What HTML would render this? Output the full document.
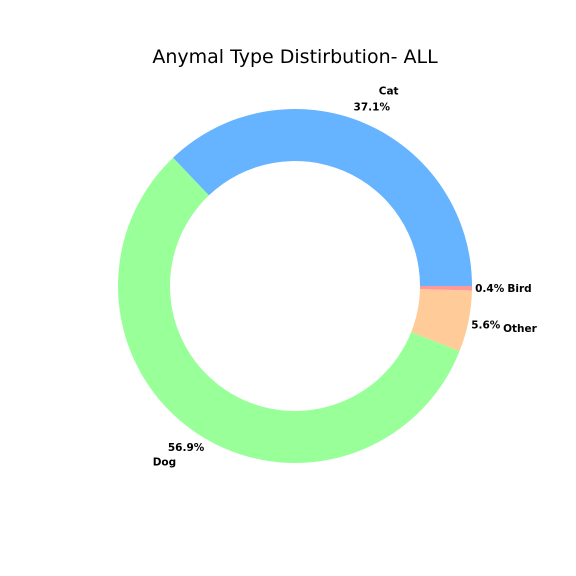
<!DOCTYPE html>
<html><head><meta charset="utf-8"><style>
body{margin:0;background:#fff;}
svg{display:block;font-family:"DejaVu Sans","Liberation Sans",sans-serif;}
</style></head><body>
<svg id="chart" width="576" height="576">
<rect width="576" height="576" fill="#fff"/>
<text x="295" y="63" font-size="19" text-anchor="middle">Anymal Type Distirbution- ALL</text>
<g id="slices"></g><g id="labels"></g>
</svg>
<script>
const categories=["Cat","Dog","Other","Bird"];
const values=[37.1,56.9,5.6,0.4];
const colors=["#66b3ff","#99ff99","#ffcc99","#ff9999"];
const cx=295,cy=286,R=177,r=125;
const total=values.reduce((a,b)=>a+b,0);
const ns="http://www.w3.org/2000/svg";
const sg=document.getElementById('slices'),lg=document.getElementById('labels');
function pt(rad,deg){const a=deg*Math.PI/180;return [cx+rad*Math.cos(a),cy-rad*Math.sin(a)];}
let start=0;
values.forEach((v,i)=>{
 const sweep=v/total*360,end=start+sweep;
 const [x1,y1]=pt(R,start),[x2,y2]=pt(R,end),[x3,y3]=pt(r,end),[x4,y4]=pt(r,start);
 const large=sweep>180?1:0;
 const p=document.createElementNS(ns,'path');
 p.setAttribute('d',`M${x1},${y1} A${R},${R} 0 ${large} 0 ${x2},${y2} L${x3},${y3} A${r},${r} 0 ${large} 1 ${x4},${y4} Z`);
 p.setAttribute('fill',colors[i]);
 
 
 sg.appendChild(p);
 const mid=(start+end)/2;
 const [px,py]=pt(R*1.1,mid);
 const t=document.createElementNS(ns,'text');
 t.setAttribute('x',px);t.setAttribute('y',py+3.5);
 t.setAttribute('text-anchor','middle');t.setAttribute('font-size','10.5');t.setAttribute('font-weight','bold');
 t.textContent=v.toFixed(1)+'%';
 
 
 lg.appendChild(t);
 const [lx,ly]=pt(R*1.2,mid);
 const l=document.createElementNS(ns,'text');
 l.setAttribute('x',lx);l.setAttribute('y',ly+3.5);
 l.setAttribute('text-anchor',Math.cos(mid*Math.PI/180)>=0?'start':'end');
 l.setAttribute('font-size','10.5');l.setAttribute('font-weight','bold');
 l.textContent=categories[i];
 
 
 lg.appendChild(l);
 start=end;
});
</script>
</body></html>
